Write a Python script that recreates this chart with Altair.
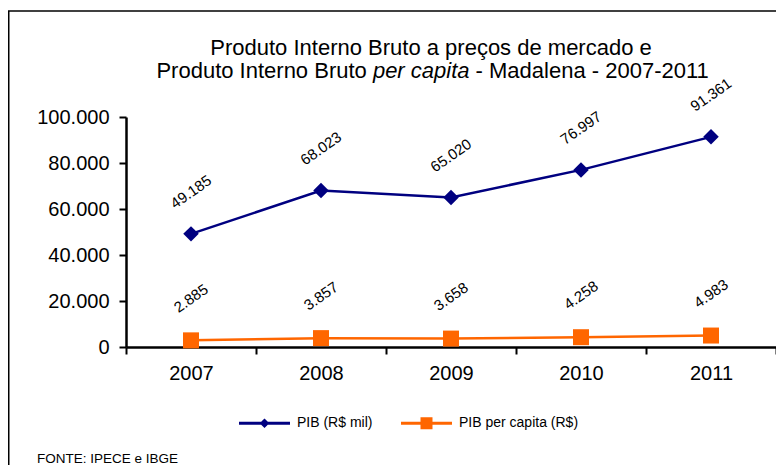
import altair as alt
import pandas as pd

years = ["2007", "2008", "2009", "2010", "2011"]
pib = [49185, 68023, 65020, 76997, 91361]
pib_pc = [2885, 3857, 3658, 4258, 4983]
series_names = ["PIB (R$ mil)", "PIB per capita (R$)"]
y_ticks = [0, 20000, 40000, 60000, 80000, 100000]
colors = ["#000080", "#FF6600"]
title_line1 = "Produto Interno Bruto a preços de mercado  e"
title_line2 = ["Produto Interno Bruto", "per capita", "- Madalena - 2007-2011"]
source_text = "FONTE: IPECE e IBGE"

FONT = "Liberation Sans"
# legend symbol paths: line + marker
legend_paths = [
    "M-1,-0.055H1V0.055H-1Z M0,-0.19L0.19,0L0,0.19L-0.19,0Z",
    "M-1,-0.055H1V0.055H-1Z M-0.235,-0.235H0.235V0.235H-0.235Z",
]
marker_shapes = ["diamond", "square"]
marker_sizes = [240, 256]


def fmt(v):
    return f"{v:,}".replace(",", ".")


rows = []
for s, vals in zip(series_names, [pib, pib_pc]):
    for yr, v in zip(years, vals):
        rows.append({"ano": yr, "serie": s, "valor": v, "rotulo": fmt(v)})
df = pd.DataFrame(rows)

x_enc = alt.X(
    "ano:N",
    scale=alt.Scale(type="band", domain=years, paddingInner=0, paddingOuter=0),
    axis=alt.Axis(title=None, labelAngle=0, tickBand="extent", labelPadding=9),
    bandPosition=0.5,
)
y_enc = alt.Y(
    "valor:Q",
    scale=alt.Scale(domain=[0, 100000], nice=False),
    axis=alt.Axis(
        title=None,
        values=y_ticks,
        labelExpr="replace(format(datum.value, ','), ',', '.')",
        labelPadding=10,
    ),
)

base = alt.Chart(df)

series_layers = []
for name, col, shp, sz in zip(series_names, colors, marker_shapes, marker_sizes):
    sub = base.transform_filter(alt.datum.serie == name)
    series_layers.append(sub.mark_line(strokeWidth=2.5, color=col).encode(x=x_enc, y=y_enc))
    series_layers.append(
        sub.mark_point(shape=shp, filled=True, size=sz, opacity=1, color=col).encode(x=x_enc, y=y_enc)
    )

labels = base.mark_text(
    angle=325, yOffset=-42, fontSize=15, font=FONT, color="black", baseline="middle", align="center"
).encode(x=x_enc, y=y_enc, text="rotulo:N")

leg_props = dict(
    title=None,
    orient="none",
    legendX=113,
    legendY=280.5,
    direction="horizontal",
    symbolSize=2601,
    symbolStrokeWidth=0,
    symbolOpacity=1,
    labelFont=FONT,
    labelFontSize=14,
    labelColor="black",
    labelOffset=7,
    columnPadding=28,
    padding=0,
)
legend_layer = base.mark_point(filled=True, opacity=1).encode(
    x=alt.value(-3000),
    y=alt.value(-3000),
    color=alt.Color(
        "serie:N", scale=alt.Scale(domain=series_names, range=colors), legend=alt.Legend(**leg_props)
    ),
    shape=alt.Shape(
        "serie:N",
        scale=alt.Scale(domain=series_names, range=legend_paths),
        legend=alt.Legend(**leg_props),
    ),
)


def text_layer(txt, x, y, size, align="left", style="normal"):
    return (
        alt.Chart(pd.DataFrame({"t": [txt]}))
        .mark_text(font=FONT, fontSize=size, align=align, baseline="alphabetic", fontStyle=style, color="black")
        .encode(text="t:N", x=alt.value(x), y=alt.value(y))
    )


t1 = text_layer(title_line1, 305, -62, 22, align="center")
t2a = text_layer(title_line2[0], 240.8, -39, 22, align="right")
t2b = text_layer(title_line2[1], 246.9, -39, 22, align="left", style="italic")
t2c = text_layer(title_line2[2], 349.6, -39, 22, align="left")
src = text_layer(source_text, -89, 346, 13.5, align="left")

frame_df = pd.DataFrame({"a": [0]})
frame_v = alt.Chart(frame_df).mark_rule(color="black", strokeWidth=1.5).encode(
    x=alt.value(-117.25), y=alt.value(-106), y2=alt.value(400)
)
frame_h = alt.Chart(frame_df).mark_rule(color="black", strokeWidth=1.5).encode(
    x=alt.value(-118), x2=alt.value(700), y=alt.value(-106)
)

chart = (
    alt.layer(*series_layers, labels, legend_layer, t1, t2a, t2b, t2c, src, frame_v, frame_h)
    .properties(
        width=650,
        height=230,
        padding={"left": 118, "top": 109, "right": 0, "bottom": 118},
        autosize=alt.AutoSizeParams(type="none"),
    )
    .configure_view(stroke=None)
    .configure_axis(
        domainColor="black",
        domainWidth=2.5,
        tickColor="black",
        tickWidth=2,
        tickSize=7,
        labelFont=FONT,
        labelFontSize=20,
        labelColor="black",
        grid=False,
    )
)

chart.save("out.html", embed_options={"renderer": "svg", "actions": False})
